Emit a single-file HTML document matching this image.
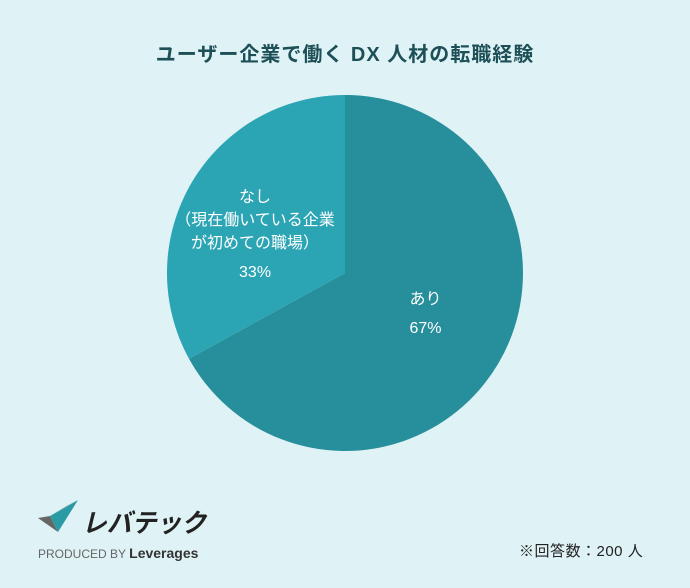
<!DOCTYPE html>
<html><head><meta charset="utf-8"><style>
html,body{margin:0;padding:0;background:#dff2f5;}
body{width:690px;height:588px;position:relative;overflow:hidden;font-family:"Liberation Sans","Noto Sans CJK JP",sans-serif;}
.t{position:absolute;}
</style></head><body>
<div class="t" style="left:0;width:690px;top:38px;text-align:center;font-size:20px;font-weight:bold;color:#1d4f57;letter-spacing:1px;">ユーザー企業で働く DX 人材の転職経験</div>
<svg id="pie" width="690" height="588" style="position:absolute;left:0;top:0"></svg>
<div class="t" style="left:38px;top:498px;">
<svg width="180" height="40"><polygon points="0,20 12,18 20,34" fill="#666"/><polygon points="12,18 40,2 20,34" fill="#2a9aa5"/><polygon points="12,18 40,2 28,8" fill="#bbb"/>
<text x="44" y="34" font-size="26" font-weight="bold" font-style="italic" fill="#222" textLength="124" lengthAdjust="spacingAndGlyphs" font-family="Liberation Sans,Noto Sans CJK JP,sans-serif">レバテック</text></svg>
<div style="font-size:12px;color:#666;margin-top:2px;white-space:nowrap">PRODUCED BY <b style="color:#333;font-size:14px">Leverages</b></div>
</div>
<div class="t" style="left:519px;top:540px;font-size:15px;color:#222;letter-spacing:0.5px;">※回答数：200 人</div>
<script>
const categories=["あり","なし\n（現在働いている企業\nが初めての職場）"];
const values=[67,33];
const colors=["#268f9b","#2ba4b4"];
const svg=document.getElementById('pie');
const NS="http://www.w3.org/2000/svg";
const cx=345,cy=273,r=178;
const total=values.reduce((a,b)=>a+b,0);
let a0=0;
function pt(a,rr){return [cx+rr*Math.sin(a),cy-rr*Math.cos(a)];}
values.forEach((v,i)=>{
 const a1=a0+v/total*2*Math.PI;
 const p0=pt(a0,r),p1=pt(a1,r);
 const p=document.createElementNS(NS,'path');
 p.setAttribute('d',`M${cx},${cy}L${p0[0]},${p0[1]}A${r},${r} 0 ${a1-a0>Math.PI?1:0} 1 ${p1[0]},${p1[1]}Z`);
 p.setAttribute('fill',colors[i]);
 
 
 svg.appendChild(p);
 const mid=(a0+a1)/2;const lp=pt(mid,i==0?90:108);
 const lines=categories[i].split('\n').concat([v+'%']);
 const g=document.createElementNS(NS,'text');
 
 
 g.setAttribute('text-anchor','middle');g.setAttribute('fill','#fff');g.setAttribute('font-size','16');
 const startY=lp[1]-(lines.length-1)*12;
 lines.forEach((l,j)=>{const ts=document.createElementNS(NS,'tspan');ts.setAttribute('x',lp[0]+(i==1?3:3));ts.setAttribute('y',startY+j*23+(j==lines.length-1?6:0)+(i==1?20:-3));ts.textContent=l;g.appendChild(ts);});
 svg.appendChild(g);
 a0=a1;
});
</script>
</body></html>
